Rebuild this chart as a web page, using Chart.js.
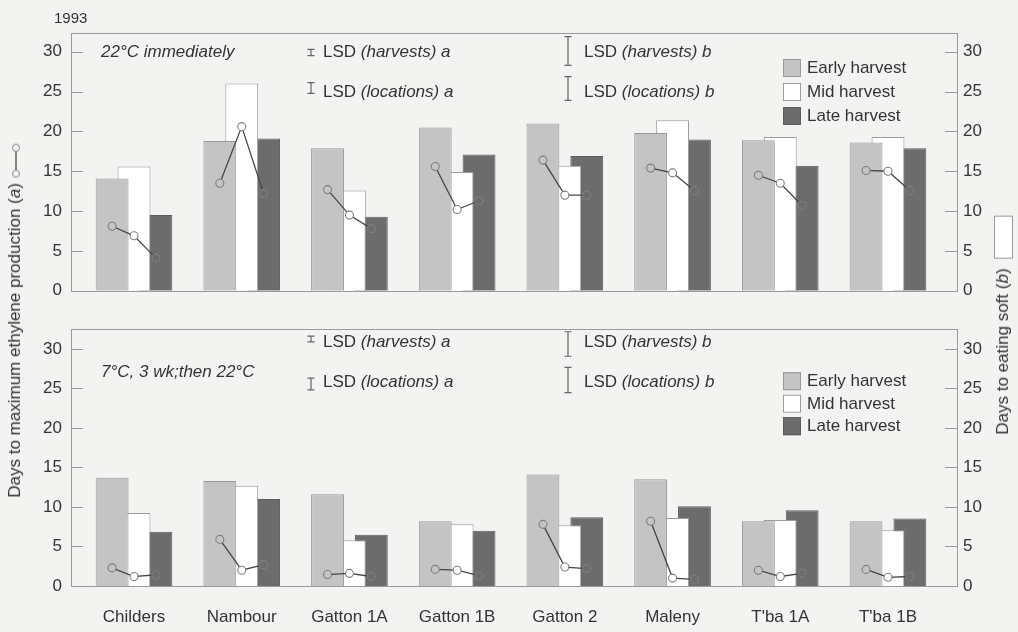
<!DOCTYPE html>
<html>
<head>
<meta charset="utf-8">
<title>Days to maximum ethylene production and to eating soft, 1993</title>
<script src="https://cdn.jsdelivr.net/npm/chart.js@4.4.1/dist/chart.umd.min.js"></script>
<style>
  html, body { margin: 0; padding: 0; background: #f3f3f1; }
  #fig { position: relative; width: 1018px; height: 632px; overflow: hidden;
         font-family: "Liberation Sans", Arial, Helvetica, sans-serif; color: #333; }
  #fig canvas { position: absolute; left: 0; }
  .t { position: absolute; white-space: nowrap; font-size: 17px; line-height: 20px; transform: translateY(-50%); }
  .t i { font-style: italic; }
  .vt { position: absolute; white-space: nowrap; font-size: 17px; line-height: 20px;
        transform: translate(-50%, -50%) rotate(-90deg); }
  .vt svg, .vt .box { vertical-align: middle; }
  .box { display: inline-block; width: 43px; height: 19px; background: #fff; border: 1px solid #999; box-sizing: border-box; margin-left: 10px; }
</style>
</head>
<body>
<div id="fig">
  <canvas id="top" width="1018" height="310" style="top:0"></canvas>
  <canvas id="bottom" width="1018" height="322" style="top:310px"></canvas>

  <div class="t" style="left:54px; top:18px; font-size:15px;">1993</div>

  <div class="t" style="left:101px; top:52px;"><i>22°C immediately</i></div>
  <div class="t" style="left:323px; top:52px;">LSD <i>(harvests) a</i></div>
  <div class="t" style="left:323px; top:92px;">LSD <i>(locations) a</i></div>
  <div class="t" style="left:584px; top:52px;">LSD <i>(harvests) b</i></div>
  <div class="t" style="left:584px; top:92px;">LSD <i>(locations) b</i></div>

  <div class="t" style="left:101px; top:372px;"><i>7°C, 3 wk;then 22°C</i></div>
  <div class="t" style="left:323px; top:342px;">LSD <i>(harvests) a</i></div>
  <div class="t" style="left:323px; top:382px;">LSD <i>(locations) a</i></div>
  <div class="t" style="left:584px; top:342px;">LSD <i>(harvests) b</i></div>
  <div class="t" style="left:584px; top:382px;">LSD <i>(locations) b</i></div>

  <div class="vt" style="left:15px; top:320px;">Days to maximum ethylene production (<i>a</i>)
    <svg width="36" height="12"><line x1="6" y1="6" x2="31" y2="6" stroke="#4a4a4a" stroke-width="1.3"/><circle cx="5" cy="6" r="3.5" fill="#f3f3f1" stroke="#888"/><circle cx="31" cy="6" r="3.5" fill="#f3f3f1" stroke="#888"/></svg></div>
  <div class="vt" style="left:1003px; top:325px;">Days to eating soft (<i>b</i>)<span class="box"></span></div>
</div>

<script>
// Sites and harvest groups
const categories = ['Childers', 'Nambour', 'Gatton 1A', 'Gatton 1B', 'Gatton 2', 'Maleny', "T'ba 1A", "T'ba 1B"];
const harvests = ['Early harvest', 'Mid harvest', 'Late harvest'];
const yTicks = [0, 5, 10, 15, 20, 25, 30];

// 22°C immediately: days to eating soft (b)
const softEarly22 = [14.1, 18.8, 17.9, 20.5, 21.0, 19.8, 18.9, 18.6];
const softMid22   = [15.6, 26.0, 12.6, 14.9, 15.7, 21.4, 19.3, 19.3];
const softLate22  = [9.5, 19.1, 9.3, 17.1, 16.9, 19.0, 15.7, 17.9];
// 22°C immediately: days to maximum ethylene production (a)
const ethEarly22 = [8.1, 13.5, 12.7, 15.6, 16.4, 15.4, 14.5, 15.1];
const ethMid22   = [6.9, 20.6, 9.5, 10.2, 12.0, 14.8, 13.5, 15.0];
const ethLate22  = [4.1, 12.2, 7.8, 11.3, 12.0, 12.6, 10.7, 12.6];
// LSD values (harvests, locations)
const lsdA22 = [0.8, 1.35];
const lsdB22 = [3.6, 3.0];

// 7°C for 3 weeks, then 22°C: days to eating soft (b)
const softEarly7 = [13.7, 13.3, 11.6, 8.2, 14.1, 13.5, 8.2, 8.2];
const softMid7   = [9.25, 12.7, 5.8, 7.8, 7.7, 8.6, 8.35, 7.05];
const softLate7  = [6.85, 11.0, 6.5, 7.0, 8.7, 10.1, 9.6, 8.55];
// 7°C for 3 weeks, then 22°C: days to maximum ethylene production (a)
const ethEarly7 = [2.3, 5.9, 1.45, 2.1, 7.8, 8.2, 2.0, 2.1];
const ethMid7   = [1.2, 2.0, 1.6, 2.0, 2.4, 1.0, 1.2, 1.1];
const ethLate7  = [1.4, 2.7, 1.2, 1.3, 2.2, 0.85, 1.6, 1.2];
const lsdA7 = [0.75, 1.5];
const lsdB7 = [3.1, 3.2];

// Styling
const FONT = '"Liberation Sans", Arial, Helvetica, sans-serif';
const barFill   = ['#c4c4c4', '#ffffff', '#6c6c6c'];
const barStroke = ['#989898', '#9c9c9c', '#5c5c5c'];
const FRAME = '#9a9a9a';
const CAT_PCT = 0.61;                 // share of each site slot used by its three bars
const HARVEST_STEP = CAT_PCT / 3;     // distance between harvest bars, in site units

function barPoints(values) {
  return values.map((v, i) => ({ x: i, y: v }));
}

// One connected line per site: early -> mid -> late, broken between sites
function ethylenePoints(series) {
  const pts = [];
  categories.forEach((_, i) => {
    series.forEach((s, h) => pts.push({ x: i + (h - 1) * HARVEST_STEP, y: s[i] }));
    pts.push({ x: i + 0.5, y: null });
  });
  return pts;
}
function ethyleneFill() {
  const fills = [];
  categories.forEach(() => { barFill.forEach(c => fills.push(c)); fills.push('rgba(0,0,0,0)'); });
  return fills;
}

// Frame, inner tick marks, legend and LSD bars
const decorPlugin = {
  id: 'decor',
  afterDatasetsDraw(chart, args, opts) {
    const { ctx, chartArea: a, scales } = chart;
    const y = scales.y;
    ctx.save();
    ctx.strokeStyle = FRAME;
    ctx.lineWidth = 1;
    ctx.strokeRect(Math.round(a.left) + 0.5, Math.round(a.top) + 0.5, Math.round(a.right - a.left) - 1, Math.round(a.bottom - a.top));
    ctx.beginPath();
    yTicks.forEach(v => {
      const py = Math.round(y.getPixelForValue(v)) + 0.5;
      ctx.moveTo(a.left, py); ctx.lineTo(a.left + 12, py);
      ctx.moveTo(a.right - 13, py); ctx.lineTo(a.right, py);
    });
    ctx.stroke();

    // legend
    const lg = opts.legend;
    ctx.font = '17px ' + FONT;
    ctx.textBaseline = 'middle';
    ctx.textAlign = 'left';
    harvests.forEach((name, k) => {
      const bx = a.left + lg.dx, by = a.top + lg.dy + k * lg.step;
      ctx.fillStyle = barFill[k];
      ctx.fillRect(bx, by, 18, 18);
      ctx.strokeStyle = barStroke[k];
      ctx.strokeRect(bx + 0.5, by + 0.5, 17, 17);
      ctx.fillStyle = '#333';
      ctx.fillText(name, bx + 24, by + 9.5);
    });

    // LSD bars drawn to the value scale
    ctx.strokeStyle = '#666';
    ctx.lineWidth = 1.2;
    opts.lsd.forEach(b => {
      const half = (y.getPixelForValue(0) - y.getPixelForValue(b.value)) / 2;
      ctx.beginPath();
      ctx.moveTo(b.x, b.y - half); ctx.lineTo(b.x, b.y + half);
      ctx.moveTo(b.x - 3.5, b.y - half); ctx.lineTo(b.x + 3.5, b.y - half);
      ctx.moveTo(b.x - 3.5, b.y + half); ctx.lineTo(b.x + 3.5, b.y + half);
      ctx.stroke();
    });
    ctx.restore();
  }
};

function panel(canvasId, p) {
  const soft = p.soft;
  const datasets = harvests.map((name, h) => ({
    type: 'bar',
    label: name,
    data: barPoints(soft[h]),
    backgroundColor: barFill[h],
    borderColor: barStroke[h],
    borderWidth: 1,
    borderSkipped: 'bottom',
    categoryPercentage: CAT_PCT,
    barPercentage: 1.5,
    order: 1
  }));
  datasets.push({
    type: 'line',
    label: 'Days to maximum ethylene production',
    data: ethylenePoints(p.eth),
    borderColor: '#454545',
    borderWidth: 1.3,
    pointRadius: 4,
    pointBorderWidth: 1.1,
    pointBorderColor: '#7e7e7e',
    pointBackgroundColor: ethyleneFill(),
    spanGaps: false,
    order: 0
  });

  const yScale = (pos, width, pad) => ({
    position: pos,
    min: 0,
    max: p.ymax,
    afterBuildTicks: s => { s.ticks = yTicks.map(v => ({ value: v })); },
    afterFit: s => { s.width = width; },
    grid: { display: false, drawTicks: false },
    border: { display: false },
    ticks: { padding: pad, color: '#333', font: { family: FONT, size: 17 } }
  });

  return new Chart(document.getElementById(canvasId), {
    data: { datasets },
    options: {
      responsive: false,
      animation: false,
      layout: { padding: { top: p.padTop, left: 0, right: 0, bottom: 0 } },
      plugins: {
        legend: { display: false },
        tooltip: { enabled: false },
        decor: { legend: p.legend, lsd: p.lsd }
      },
      scales: {
        x: {
          type: 'linear',
          offset: false,
          min: -0.585,
          max: 7.65,
          afterBuildTicks: s => { s.ticks = categories.map((_, i) => ({ value: i })); },
          afterFit: s => { s.height = p.xHeight; },
          grid: { display: false, drawTicks: false, offset: false },
          border: { display: false },
          ticks: {
            display: p.showCats,
            autoSkip: false,
            maxRotation: 0,
            padding: 21,
            color: '#333',
            font: { family: FONT, size: 17 },
            callback: v => categories[v]
          }
        },
        y: yScale('left', 71, 9),
        y2: yScale('right', 60, 5)
      }
    },
    plugins: [decorPlugin]
  });
}

panel('top', {
  soft: [softEarly22, softMid22, softLate22],
  eth: [ethEarly22, ethMid22, ethLate22],
  ymax: 32.35,
  padTop: 33,
  xHeight: 15,
  showCats: false,
  legend: { dx: 712, dy: 26, step: 24 },
  lsd: [
    { x: 311, y: 52.5, value: lsdA22[0] },
    { x: 311, y: 88, value: lsdA22[1] },
    { x: 568, y: 51, value: lsdB22[0] },
    { x: 568, y: 88.5, value: lsdB22[1] }
  ]
});

panel('bottom', {
  soft: [softEarly7, softMid7, softLate7],
  eth: [ethEarly7, ethMid7, ethLate7],
  ymax: 32.5,
  padTop: 15,
  xHeight: 46,
  showCats: true,
  legend: { dx: 712, dy: 43, step: 22.5 },
  lsd: [
    { x: 311, y: 29, value: lsdA7[0] },
    { x: 311, y: 74, value: lsdA7[1] },
    { x: 568, y: 34, value: lsdB7[0] },
    { x: 568, y: 70, value: lsdB7[1] }
  ]
});
</script>
</body>
</html>
